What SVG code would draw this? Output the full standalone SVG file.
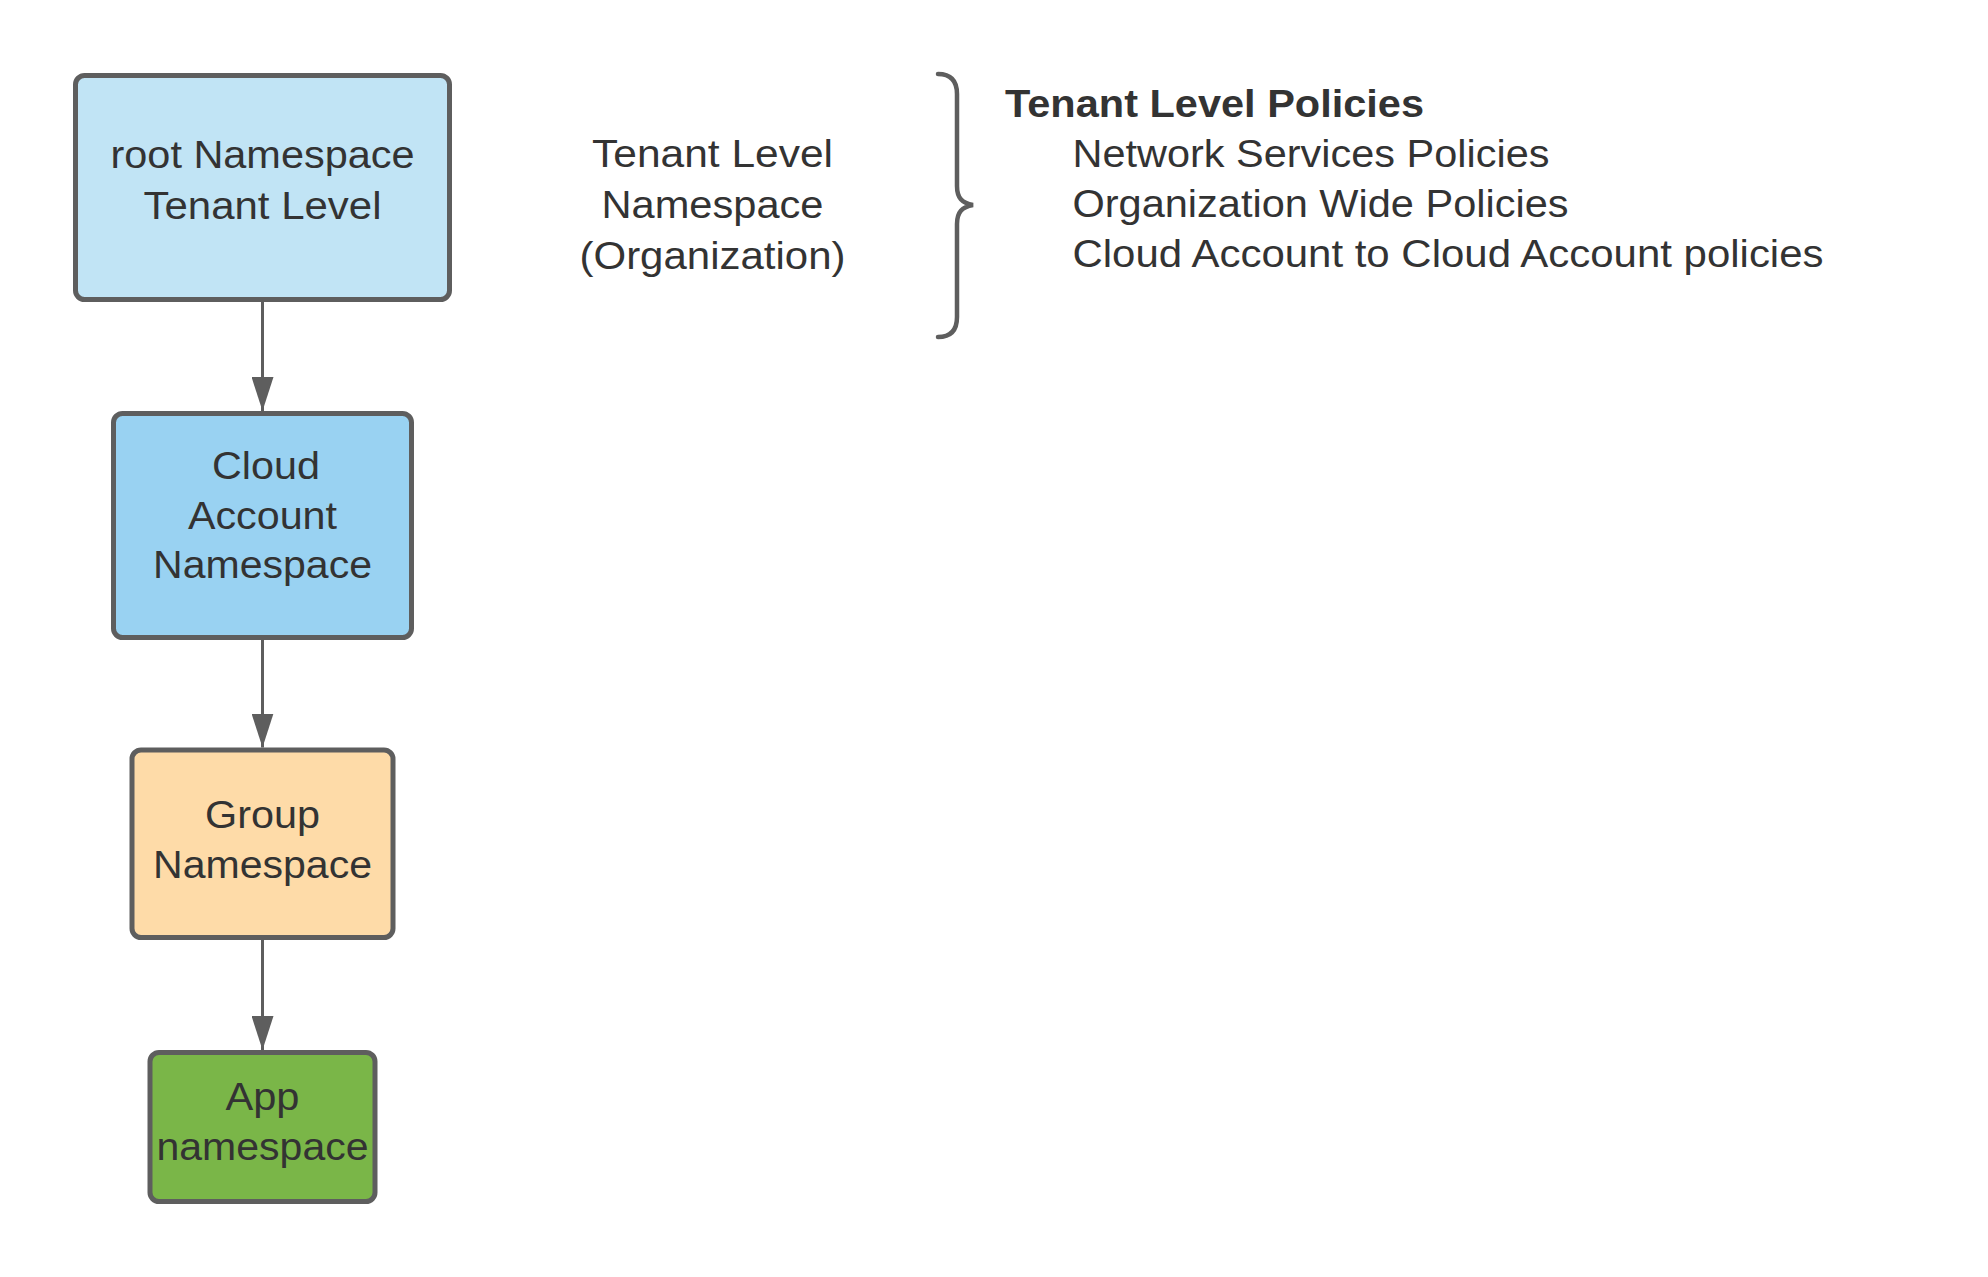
<svg xmlns="http://www.w3.org/2000/svg" width="1988" height="1277" viewBox="0 0 1988 1277">
  <style>
    .box { stroke: #5E5E5E; stroke-width: 5; }
    .t { font-family: "Liberation Sans", Arial, sans-serif; font-size: 38px; fill: #333333; }
    .c { text-anchor: middle; }
    .b { font-weight: bold; }
    .edge { stroke: #5E5E5E; stroke-width: 3; fill: none; }
    .brace { stroke: #5E5E5E; stroke-width: 4.5; fill: none; stroke-linecap: round; }
  </style>
  <defs>
    <marker id="arrow" viewBox="0 0 34 22" markerWidth="34" markerHeight="22" refX="34" refY="11" markerUnits="userSpaceOnUse" orient="auto">
      <path d="M0,0 L34,11 L0,22 Z" fill="#5E5E5E"/>
    </marker>
  </defs>
  <rect width="1988" height="1277" fill="#FFFFFF"/>

  <g id="connectors">
    <line class="edge" x1="262.5" y1="302" x2="262.5" y2="411" marker-end="url(#arrow)"/>
    <line class="edge" x1="262.5" y1="640" x2="262.5" y2="747.5" marker-end="url(#arrow)"/>
    <line class="edge" x1="262.5" y1="940" x2="262.5" y2="1050" marker-end="url(#arrow)"/>
  </g>

  <g id="root-namespace">
    <rect class="box" x="75.5" y="75.5" width="374" height="224" rx="9" fill="#C1E4F5"/>
    <text class="t c" x="262.5" y="168" textLength="304" lengthAdjust="spacingAndGlyphs">root Namespace</text>
    <text class="t c" x="262.5" y="219" textLength="238" lengthAdjust="spacingAndGlyphs">Tenant Level</text>
  </g>

  <g id="cloud-account-namespace">
    <rect class="box" x="113.5" y="413.5" width="298" height="224" rx="9" fill="#99D2F2"/>
    <text class="t c" x="266" y="479" textLength="108" lengthAdjust="spacingAndGlyphs">Cloud</text>
    <text class="t c" x="262.5" y="528.5" textLength="149" lengthAdjust="spacingAndGlyphs">Account</text>
    <text class="t c" x="262.5" y="578" textLength="219" lengthAdjust="spacingAndGlyphs">Namespace</text>
  </g>

  <g id="group-namespace">
    <rect class="box" x="132" y="750" width="261" height="187.5" rx="9" fill="#FEDBA8"/>
    <text class="t c" x="262.5" y="828" textLength="115" lengthAdjust="spacingAndGlyphs">Group</text>
    <text class="t c" x="262.5" y="878" textLength="219" lengthAdjust="spacingAndGlyphs">Namespace</text>
  </g>

  <g id="app-namespace">
    <rect class="box" x="150" y="1052.5" width="225" height="149" rx="9" fill="#7AB648"/>
    <text class="t c" x="262.5" y="1110" textLength="74" lengthAdjust="spacingAndGlyphs">App</text>
    <text class="t c" x="262.5" y="1159.5" textLength="212" lengthAdjust="spacingAndGlyphs">namespace</text>
  </g>

  <g id="tenant-level-label">
    <text class="t c" x="712.5" y="167" textLength="241" lengthAdjust="spacingAndGlyphs">Tenant Level</text>
    <text class="t c" x="712.5" y="218" textLength="222" lengthAdjust="spacingAndGlyphs">Namespace</text>
    <text class="t c" x="712.5" y="269" textLength="266" lengthAdjust="spacingAndGlyphs">(Organization)</text>
  </g>

  <g id="brace">
    <path class="brace" d="M938,74 Q957,74 957,94 L957,186 C957,198 962,203 973,205 C962,207 957,212 957,224 L957,317 Q957,337 938,337"/>
  </g>

  <g id="tenant-level-policies">
    <text class="t b" x="1005" y="117" textLength="419" lengthAdjust="spacingAndGlyphs">Tenant Level Policies</text>
    <text class="t" x="1072.5" y="167" textLength="477" lengthAdjust="spacingAndGlyphs">Network Services Policies</text>
    <text class="t" x="1072.5" y="217" textLength="496" lengthAdjust="spacingAndGlyphs">Organization Wide Policies</text>
    <text class="t" x="1072.5" y="267" textLength="751" lengthAdjust="spacingAndGlyphs">Cloud Account to Cloud Account policies</text>
  </g>
</svg>
